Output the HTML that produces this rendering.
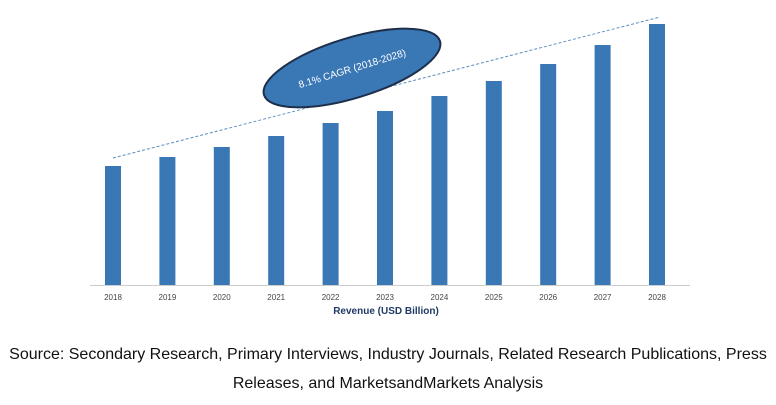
<!DOCTYPE html>
<html><head><meta charset="utf-8"><style>
body{margin:0;background:#fff;width:776px;height:405px;overflow:hidden;font-family:"Liberation Sans",sans-serif}
.src{position:absolute;left:0;width:776px;text-align:center;font-size:16px;color:#111}
</style></head><body>
<svg width="776" height="330" style="position:absolute;left:0;top:0" id="chart"></svg>
<div class="src" style="top:346px">Source: Secondary Research, Primary Interviews, Industry Journals, Related Research Publications, Press</div>
<div class="src" style="top:375px">Releases, and MarketsandMarkets Analysis</div>
<script>
const years=["2018","2019","2020","2021","2022","2023","2024","2025","2026","2027","2028"];
const revenue=[11.9,12.8,13.8,14.9,16.2,17.4,18.9,20.4,22.1,24.0,26.1];
const NS="http://www.w3.org/2000/svg";
const svg=document.getElementById('chart');
const base=285,x0=113,step=54.4,pxPer=10,bw=16;
const xs=i=>x0+i*step, ys=v=>base-v*pxPer;
function mk(t,a){const e=document.createElementNS(NS,t);for(const k in a)e.setAttribute(k,a[k]);svg.appendChild(e);return e;}
years.forEach((y,i)=>{
 const r=mk('rect',{x:xs(i)-bw/2,y:ys(revenue[i]),width:bw,height:revenue[i]*pxPer,fill:'#3a77b5'});
 
 
 const t=mk('text',{x:xs(i),y:300,'text-anchor':'middle','font-size':'8','fill':'#444'});
 t.textContent=y;
 
 
});
const ax=mk('line',{x1:90,y1:base+0.5,x2:690,y2:base+0.5,stroke:'#ccc','stroke-width':1});


const n=years.length-1;
const tl=mk('line',{x1:xs(0),y1:ys(revenue[0])-8,x2:xs(n)+3,y2:ys(revenue[n])-7,stroke:'#5b8fc0','stroke-width':1,'stroke-dasharray':'3,2'});


const g=document.createElementNS(NS,'g');g.setAttribute('transform','translate(352,68) rotate(-17)');svg.appendChild(g);


const el=document.createElementNS(NS,'ellipse');
['cx','cy'].forEach(k=>el.setAttribute(k,0));el.setAttribute('rx',92);el.setAttribute('ry',30);
el.setAttribute('fill','#3a77b5');el.setAttribute('stroke','#1d2f4a');el.setAttribute('stroke-width','2');g.appendChild(el);
const ct=document.createElementNS(NS,'text');ct.setAttribute('text-anchor','middle');ct.setAttribute('y','4');ct.setAttribute('font-size','10');ct.setAttribute('fill','#fff');ct.textContent='8.1% CAGR (2018-2028)';g.appendChild(ct);
const at=mk('text',{x:386,y:314,'text-anchor':'middle','font-size':'10','font-weight':'bold','fill':'#1f3a66'});
at.textContent='Revenue (USD Billion)';


</script>
</body></html>
